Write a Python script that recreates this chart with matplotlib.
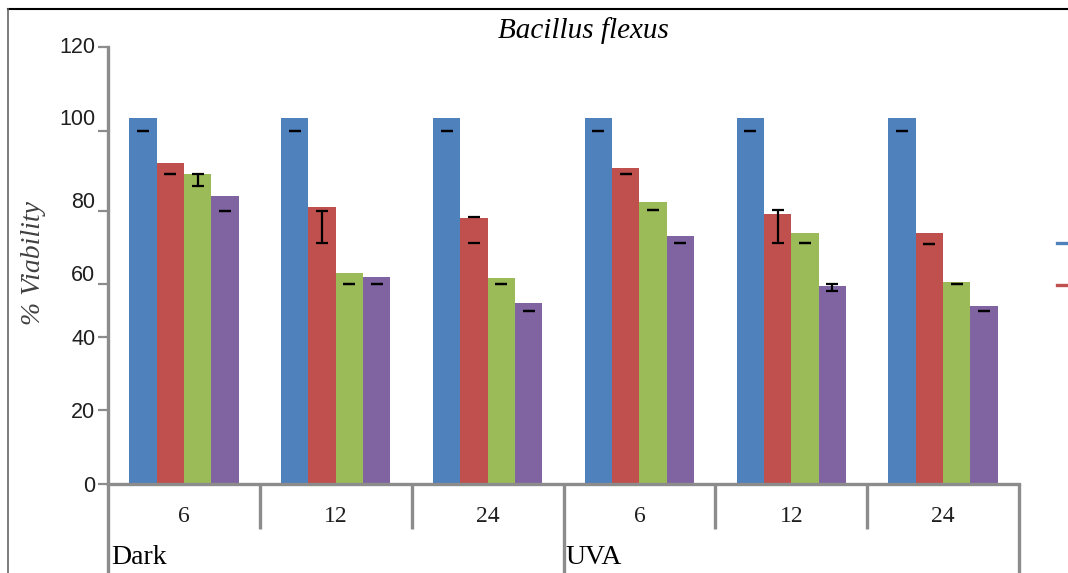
import numpy as np
import matplotlib
matplotlib.use('Agg')
import matplotlib.pyplot as plt
from matplotlib.lines import Line2D
from matplotlib.transforms import ScaledTranslation

# ---------------- data ----------------
hours = ['6', '12', '24', '6', '12', '24']
group_labels = ['Dark', 'UVA']
title = 'Bacillus flexus'
ylabel = '% Viability'
y_ticks = [0, 20, 40, 60, 80, 100, 120]

# bar heights for the four series (read on the chart's own y axis)
s1 = [103.0, 103.0, 103.0, 103.0, 103.0, 103.0]
s2 = [92.0, 81.0, 78.1, 90.75, 79.2, 74.0]
s3 = [89.25, 63.0, 61.6, 82.25, 74.0, 60.5]
s4 = [83.75, 61.9, 52.8, 73.2, 59.2, 51.7]

# error marks: lower / upper cap levels and whether a stem joins them
s1_lo = [100, 100, 100, 100, 100, 100]
s1_hi = [100, 100, 100, 100, 100, 100]
s1_stem = [False, False, False, False, False, False]
s2_lo = [89.25, 71.2, 71.2, 89.25, 71.2, 71.0]
s2_hi = [89.25, 80.0, 78.4, 89.25, 80.25, 71.0]
s2_stem = [False, True, False, False, True, False]
s3_lo = [86.25, 60.0, 60.0, 80.25, 71.2, 60.0]
s3_hi = [89.25, 60.0, 60.0, 80.25, 71.2, 60.0]
s3_stem = [True, False, False, False, False, False]
s4_lo = [80.0, 60.0, 49.8, 71.2, 57.4, 49.8]
s4_hi = [80.0, 60.0, 49.8, 71.2, 60.0, 49.8]
s4_stem = [False, False, False, False, True, False]

# ---------------- style / layout ----------------
colors = ['#4F81BD', '#C0504D', '#9BBB59', '#8064A2']
axis_gray = '#8c8c8c'
W, H = 1068, 573
# pixel heights of the y ticks above the x axis (the reference axis is uneven)
tick_px = [0, 74, 147, 200, 273, 353, 437]
label_shift_px = [0, 0, 0, 11, 11, 14, 2]

def fwd(v):
    return np.interp(v, y_ticks, tick_px)

def inv(u):
    return np.interp(u, tick_px, y_ticks)

fig = plt.figure(figsize=(W / 100, H / 100), dpi=100)
ax = fig.add_axes([108 / W, 1 - 484 / H, (1019 - 108) / W, 437 / H])
ax.set_yscale('function', functions=(fwd, inv))
ax.set_ylim(0, 120)
ax.set_xlim(-0.5, 5.5)

x = np.arange(len(hours))
bw = 0.18
series = [s1, s2, s3, s4]
los = [s1_lo, s2_lo, s3_lo, s4_lo]
his = [s1_hi, s2_hi, s3_hi, s4_hi]
stems = [s1_stem, s2_stem, s3_stem, s4_stem]
for i, (vals, c) in enumerate(zip(series, colors)):
    xi = x + (i - 1.5) * bw
    ax.bar(xi, vals, width=bw, color=c, edgecolor='none', zorder=2)
    lo = np.array(los[i], dtype=float)
    hi = np.array(his[i], dtype=float)
    st = np.array(stems[i], dtype=bool)
    ax.plot(xi, lo, ls='none', marker='_', ms=8, mew=1.6, color='black', zorder=4)
    ax.plot(xi, hi, ls='none', marker='_', ms=8, mew=1.6, color='black', zorder=4)
    if st.any():
        ax.vlines(xi[st], lo[st], hi[st], color='black', lw=1.6, zorder=4)

# axes styling
for s in ['top', 'right']:
    ax.spines[s].set_visible(False)
for s in ['left', 'bottom']:
    ax.spines[s].set_color(axis_gray)
    ax.spines[s].set_linewidth(2.4)
ax.tick_params(axis='y', direction='out', length=7.2, width=1.6, color=axis_gray,
               pad=2, labelsize=15.5, labelcolor='#1f1f1f')
ax.set_xticks(x, hours, fontfamily='Liberation Serif', fontsize=17, color='#1f1f1f')
ax.tick_params(axis='x', length=0, pad=16)
ax.set_yticks(y_ticks, [str(t) for t in y_ticks], fontfamily='Liberation Sans')
ax.minorticks_off()

# category separators below the axis
trans = ax.get_xaxis_transform()
short_end = -(529 - 484) / 437
long_end = -(H - 484) / 437
for xs in [0.5, 1.5, 3.5, 4.5]:
    ax.plot([xs, xs], [0, short_end], transform=trans, clip_on=False,
            color=axis_gray, lw=2.4, solid_capstyle='butt')
for xs in [-0.5, 2.5, 5.5]:
    ax.plot([xs, xs], [0, long_end], transform=trans, clip_on=False,
            color=axis_gray, lw=2.4, solid_capstyle='butt')

# group labels
base = -(564 - 484) / 437
ax.text(-0.48, base, group_labels[0], transform=trans, va='baseline', ha='left',
        fontfamily='Liberation Serif', fontsize=20, color='black')
ax.text(2.513, base, group_labels[1], transform=trans, va='baseline', ha='left',
        fontfamily='Liberation Serif', fontsize=20, color='black')

# title and y label
fig.text(583 / W, 1 - 37.5 / H, title, ha='center', va='baseline',
         fontfamily='Liberation Serif', fontstyle='italic', fontsize=21, color='black')
fig.text(33 / W, 1 - 263 / H, ylabel, rotation=90, ha='center', va='center',
         fontfamily='Liberation Serif', fontstyle='italic', fontsize=20, color='#404040')

# frame lines
fig.add_artist(Line2D([8 / W, 1], [1 - 9 / H, 1 - 9 / H], color='black', lw=1.5,
                      transform=fig.transFigure))
fig.add_artist(Line2D([8 / W, 8 / W], [0, 1 - 9 / H], color='#666666', lw=1.2,
                      transform=fig.transFigure))

# legend keys (cut off at the right edge in the reference)
for yk, c in [(243, colors[0]), (285, colors[1])]:
    fig.add_artist(Line2D([1057 / W, 1], [1 - yk / H, 1 - yk / H], color=c, lw=2.4,
                          transform=fig.transFigure))

# shift some y tick labels as in the reference
for lab, dy in zip(ax.get_yticklabels(), label_shift_px):
    lab.set_transform(lab.get_transform() + ScaledTranslation(0, dy / 100, fig.dpi_scale_trans))

fig.savefig('out.png', dpi=100)
